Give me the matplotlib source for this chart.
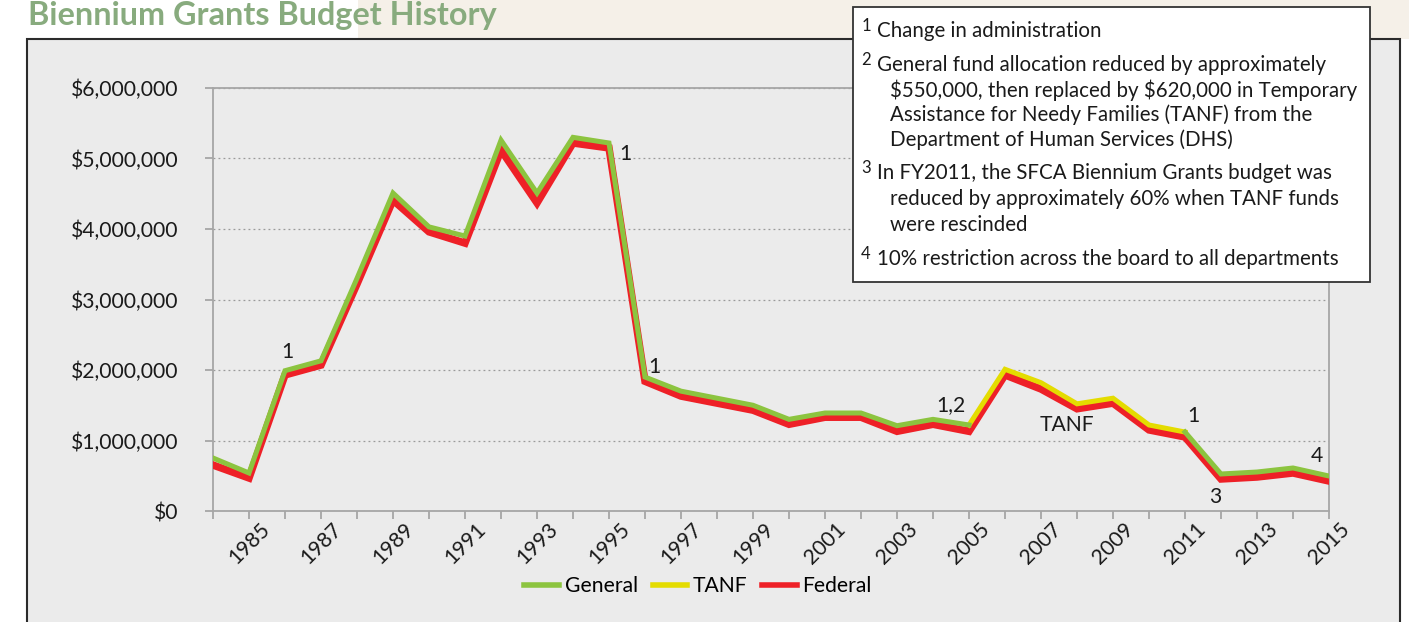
import numpy as np
import matplotlib
matplotlib.use("Agg")
import matplotlib.pyplot as plt
from matplotlib.patches import Rectangle
from matplotlib.ticker import FuncFormatter, MultipleLocator

nan = np.nan
years = list(range(1984, 2016))
general = [752e3, 539e3, 1.99e6, 2.13e6, 3.30e6, 4.51e6, 4.03e6, 3.90e6, 5.26e6, 4.51e6,
           5.30e6, 5.22e6, 1.90e6, 1.70e6, 1.60e6, 1.50e6, 1.30e6, 1.39e6, 1.39e6, 1.21e6,
           1.30e6, 1.22e6, nan, nan, nan, nan, nan, 1.12e6, 525e3, 553e3, 610e3, 496e3]
tanf = [nan] * 21 + [1.22e6, 2.01e6, 1.82e6, 1.52e6, 1.60e6, 1.22e6, 1.12e6] + [nan] * 4
federal = [652e3, 468e3, 1.93e6, 2.07e6, 3.22e6, 4.41e6, 3.96e6, 3.80e6, 5.12e6, 4.37e6,
           5.22e6, 5.15e6, 1.84e6, 1.63e6, 1.53e6, 1.43e6, 1.23e6, 1.33e6, 1.33e6, 1.13e6,
           1.23e6, 1.13e6, 1.93e6, 1.73e6, 1.45e6, 1.53e6, 1.15e6, 1.05e6, 454e3, 482e3,
           539e3, 425e3]
tick_years = list(range(1985, 2016, 2))
series_names = ["General", "TANF", "Federal"]

notes = [
    ("1", ["Change in administration"]),
    ("2", ["General fund allocation reduced by approximately",
           "$550,000, then replaced by $620,000 in Temporary",
           "Assistance for Needy Families (TANF) from the",
           "Department of Human Services (DHS)"]),
    ("3", ["In FY2011, the SFCA Biennium Grants budget was",
           "reduced by approximately 60% when TANF funds",
           "were rescinded"]),
    ("4", ["10% restriction across the board to all departments"]),
]
point_labels = [("1", 1986.06, 2.255e6), ("1", 1995.45, 5.06e6), ("1", 1996.25, 2.04e6),
                ("1,2", 2004.5, 1.50e6), ("TANF", 2007.72, 1.22e6), ("1", 2011.22, 1.35e6),
                ("3", 2011.83, 0.20e6), ("4", 2014.67, 0.78e6)]

W, H = 1409, 622
FONT = "Lato"
plt.rcParams["font.family"] = [FONT, "DejaVu Sans"]
plt.rcParams["text.parse_math"] = False

fig = plt.figure(figsize=(W / 100, H / 100), dpi=100, facecolor="white")

def fx(x):
    return x / W

def fy(y):
    return 1 - y / H

# beige header band
fig.patches.append(Rectangle((fx(358), fy(39)), fx(W - 358), 39 / H, transform=fig.transFigure,
                             facecolor="#f5f0e8", edgecolor="none", zorder=0))
# gray chart box
fig.patches.append(Rectangle((fx(27), fy(H + 5)), fx(1400 - 27), (H + 5 - 39) / H,
                             transform=fig.transFigure, facecolor="#ebebeb",
                             edgecolor="#2b2b2b", linewidth=1.5, zorder=1))

fig.text(fx(28), fy(24.5), "Biennium Grants Budget History", color="#88ab7e",
         fontsize=23.3, fontweight="bold", ha="left", va="baseline")

ax = fig.add_axes([fx(213), fy(511), fx(1329 - 213), (511 - 88) / H])
ax.set_facecolor("#ebebeb")
ax.set_zorder(2)

ax.plot(years, federal, color="#ee2027", lw=5.4, solid_joinstyle="miter",
        label=series_names[2], zorder=3)
ax.plot(years, tanf, color="#e4dc00", lw=3.6, solid_joinstyle="miter",
        label=series_names[1], zorder=4)
ax.plot(years, general, color="#8cc43f", lw=3.6, solid_joinstyle="miter",
        label=series_names[0], zorder=5)

ax.set_xlim(years[0], years[-1])
ax.set_ylim(0, 6e6)
ax.yaxis.set_major_locator(MultipleLocator(1e6))
ax.yaxis.set_major_formatter(FuncFormatter(lambda v, p: "$0" if v == 0 else f"${v:,.0f}"))
ax.set_xticks(years, minor=True)
ax.set_xticks(tick_years)
ax.set_xticklabels([str(y) for y in tick_years], rotation=45, ha="center", va="top")
ax.tick_params(axis="x", which="both", length=6, color="#a0a0a0", width=1.2,
               labelsize=15.2, labelcolor="#1a1a1a", pad=0)
ax.tick_params(axis="y", length=6, color="#a0a0a0", width=1.2, labelsize=15.2,
               labelcolor="#1a1a1a", pad=19)
for s in ax.spines.values():
    s.set_color("#a6a6a6")
    s.set_linewidth(1.3)
ax.grid(axis="y", linestyle=(0, (1.5, 2.5)), color="#9a9a9a", linewidth=0.9)
ax.set_axisbelow(True)

for txt, x, y in point_labels:
    ax.text(x, y, txt, ha="center", va="center", fontsize=15.2, color="#1a1a1a", zorder=6)

handles, labels = ax.get_legend_handles_labels()
order = [labels.index(n) for n in series_names]
leg = fig.legend([handles[i] for i in order], [labels[i] for i in order], loc="center",
                 bbox_to_anchor=(fx(698), fy(586)), ncol=3, frameon=False, fontsize=15.2,
                 handlelength=1.65, handletextpad=0.25, columnspacing=0.7)
for lh in leg.get_lines():
    lh.set_linewidth(4.0)

# notes box
fig.patches.append(Rectangle((fx(853), fy(282)), fx(1370 - 853), (282 - 7) / H,
                             transform=fig.transFigure, facecolor="white",
                             edgecolor="#333333", linewidth=1.3, zorder=10))
line_y = [[31], [65, 90, 115, 140], [173, 199, 225], [259]]
for (num, lines), ys in zip(notes, line_y):
    fig.text(fx(866), fy(ys[0] - 5), num, fontsize=12, ha="center", va="center",
             color="#1a1a1a", zorder=11)
    for i, (t, y) in enumerate(zip(lines, ys)):
        fig.text(fx(877 if i == 0 else 890), fy(y), t, fontsize=14.8, ha="left",
                 va="center", color="#1a1a1a", zorder=11)

fig.savefig("out.png", dpi=100, facecolor="white")
